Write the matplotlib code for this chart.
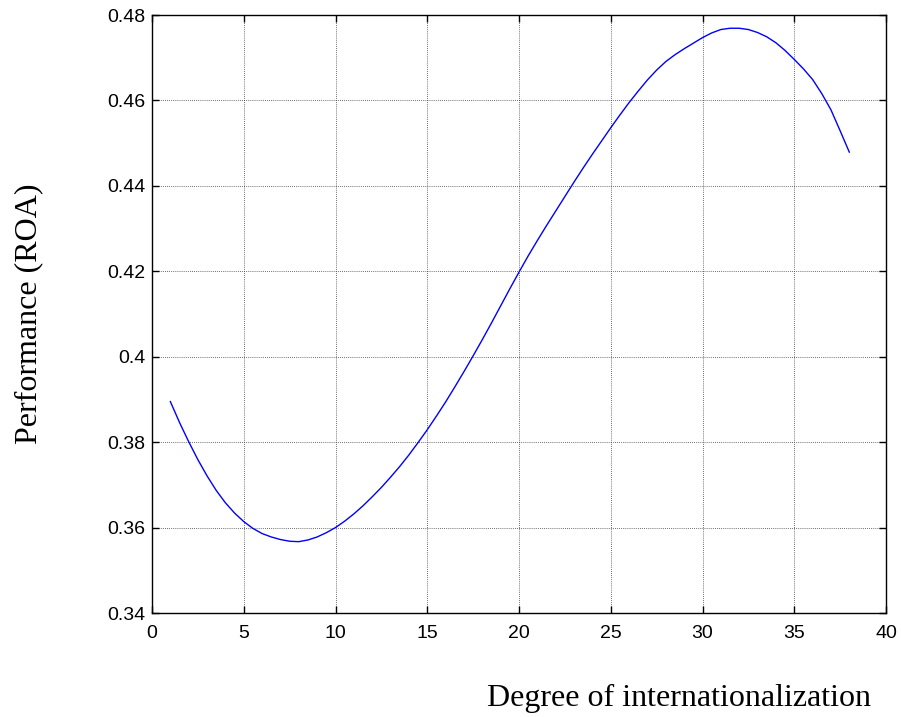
import matplotlib
matplotlib.use('Agg')
import matplotlib.pyplot as plt

# values (every half unit)
doi = [1.0, 1.5, 2.0, 2.5, 3.0, 3.5, 4.0, 4.5, 5.0, 5.5, 6.0, 6.5, 7.0, 7.5,
       8.0, 8.5, 9.0, 9.5, 10.0, 10.5, 11.0, 11.5, 12.0, 12.5, 13.0, 13.5,
       14.0, 14.5, 15.0, 15.5, 16.0, 16.5, 17.0, 17.5, 18.0, 18.5, 19.0, 19.5,
       20.0, 20.5, 21.0, 21.5, 22.0, 22.5, 23.0, 23.5, 24.0, 24.5, 25.0, 25.5,
       26.0, 26.5, 27.0, 27.5, 28.0, 28.5, 29.0, 29.5, 30.0, 30.5, 31.0, 31.5,
       32.0, 32.5, 33.0, 33.5, 34.0, 34.5, 35.0, 35.5, 36.0, 36.5, 37.0, 37.5,
       38.0]
roa = [0.3895, 0.3846, 0.3801, 0.3759, 0.3721, 0.3687, 0.3658, 0.3634,
       0.3614, 0.3598, 0.3586, 0.3578, 0.3572, 0.3568, 0.3567, 0.3571,
       0.3578, 0.3588, 0.3600, 0.3615, 0.3632, 0.3651, 0.3672, 0.3694,
       0.3718, 0.3743, 0.3770, 0.3799, 0.3829, 0.3861, 0.3894, 0.3929,
       0.3965, 0.4002, 0.4040, 0.4079, 0.4119, 0.4159, 0.4198, 0.4236,
       0.4272, 0.4307, 0.4341, 0.4375, 0.4409, 0.4442, 0.4474, 0.4505,
       0.4536, 0.4566, 0.4595, 0.4622, 0.4648, 0.4671, 0.4691, 0.4707,
       0.4721, 0.4734, 0.4747, 0.4758, 0.4766, 0.4769, 0.4769, 0.4766,
       0.4759, 0.4749, 0.4735, 0.4717, 0.4696, 0.4674, 0.4649, 0.4616,
       0.4578, 0.4529, 0.4479]
xticks = [0, 5, 10, 15, 20, 25, 30, 35, 40]
yticks = [0.34, 0.36, 0.38, 0.40, 0.42, 0.44, 0.46, 0.48]
yticklabels = ['0.34', '0.36', '0.38', '0.4', '0.42', '0.44', '0.46', '0.48']

fig = plt.figure(figsize=(9.01, 7.17), dpi=100)
ax = fig.add_axes([152/901, 1 - 613/717, 734/901, 598/717])

ax.plot(doi, roa, color='#0000ff', lw=1.0)

ax.set_xlim(0, 40)
ax.set_ylim(0.34, 0.48)
ax.set_xticks(xticks)
ax.set_yticks(yticks)
ax.set_yticklabels(yticklabels)
ax.grid(True, color='#404040', linestyle=(0, (1, 1.5)), linewidth=0.6)
ax.tick_params(direction='in', top=True, right=True, length=5, width=1,
               labelsize=14)
ax.tick_params(axis='x', pad=9)
ax.tick_params(axis='y', pad=5)
for lab in ax.get_xticklabels() + ax.get_yticklabels():
    lab.set_fontfamily('Liberation Sans')
for s in ax.spines.values():
    s.set_linewidth(1.0)

fig.text(679/901, 1 - 706/717, 'Degree of internationalization',
         ha='center', va='baseline', fontsize=23, family='Liberation Serif')
fig.text(29/901, 1 - 314/717, 'Performance (ROA)', rotation=90,
         ha='center', va='center', fontsize=23, family='Liberation Serif')

fig.savefig('out.png', dpi=100)
